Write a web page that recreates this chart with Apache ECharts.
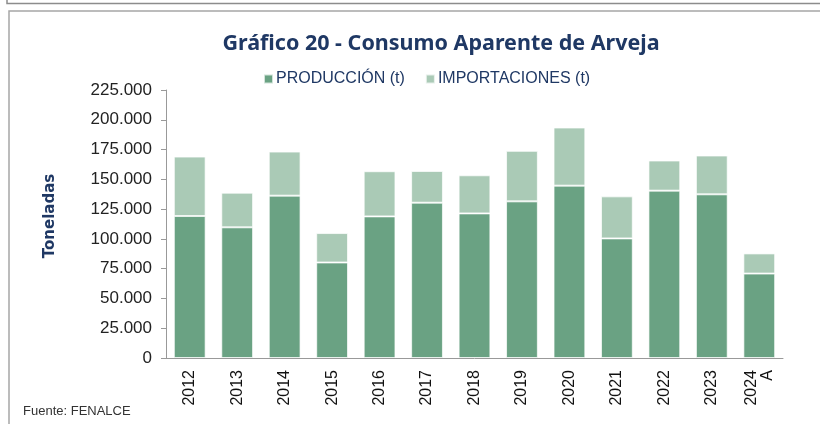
<!DOCTYPE html>
<html>
<head>
<meta charset="utf-8">
<script src="https://cdn.jsdelivr.net/npm/echarts@6/dist/echarts.min.js"></script>
<style>
  html, body { margin: 0; padding: 0; background: #fff; }
  #chart { width: 820px; height: 424px; }
</style>
</head>
<body>
<div id="chart"></div>
<script>
// datos (toneladas)
const years = ["2012", "2013", "2014", "2015", "2016", "2017", "2018", "2019", "2020", "2021", "2022", "2023", "2024\nA"];
const produccion = [119200, 109700, 136300, 80200, 118900, 130400, 121400, 131500, 144700, 100400, 140500, 137400, 70900];
const importaciones = [49900, 29100, 37000, 24700, 37900, 26600, 32000, 42400, 48800, 35300, 25300, 32600, 16900];

const navy = "#1f3864";
const fmt = v => String(v).replace(/\B(?=(\d{3})+(?!\d))/g, ".");

const chart = echarts.init(document.getElementById("chart"));
chart.setOption({
  animation: false,
  textStyle: { fontFamily: "Liberation Sans" },
  title: {
    text: "Gráfico 20 - Consumo Aparente de Arveja",
    left: 436,
    textAlign: "center",
    top: 28,
    textStyle: { color: navy, fontSize: 21.5, fontWeight: "bold", fontFamily: "Noto Sans" }
  },
  legend: {
    top: 66,
    left: 258,
    align: "left",
    itemWidth: 9,
    itemHeight: 9,
    itemGap: 20,
    icon: "rect",
    textStyle: { color: navy, fontSize: 16, padding: [0, 0, 0, -2] },
    data: ["PRODUCCIÓN (t)", "IMPORTACIONES (t)"]
  },
  grid: { left: 166, right: 37, top: 90, bottom: 66 },
  xAxis: {
    type: "category",
    data: years,
    axisLine: { lineStyle: { color: "#999" } },
    axisTick: { length: 5, lineStyle: { color: "#999" } },
    axisLabel: { rotate: 90, color: "#111", fontSize: 16, margin: 12, lineHeight: 16 }
  },
  yAxis: {
    type: "value",
    min: 0,
    max: 225000,
    interval: 25000,
    name: "Toneladas",
    nameLocation: "middle",
    nameGap: 108,
    nameTextStyle: { color: navy, fontSize: 15, fontWeight: "bold", fontFamily: "DejaVu Sans", padding: [0, 0, 0, 16] },
    axisLine: { show: true, lineStyle: { color: "#999" } },
    axisTick: { show: true, length: 5, lineStyle: { color: "#999" } },
    splitLine: { show: false },
    axisLabel: { color: "#222", fontSize: 17, margin: 14, formatter: fmt }
  },
  series: [
    {
      name: "PRODUCCIÓN (t)",
      type: "bar",
      stack: "total",
      barCategoryGap: "33%",
      data: produccion,
      itemStyle: { color: "#6aa283", borderColor: "rgba(255,255,255,0.7)", borderWidth: 1 }
    },
    {
      name: "IMPORTACIONES (t)",
      type: "bar",
      stack: "total",
      data: importaciones,
      itemStyle: { color: "#aacab6", borderColor: "rgba(255,255,255,0.7)", borderWidth: 1 }
    }
  ],
  graphic: [
    { type: "polyline", shape: { points: [[7, 0], [7, 3.5], [820, 3.5]] }, style: { stroke: "#8c8c8c", lineWidth: 1.5, fill: null } },
    { type: "polyline", shape: { points: [[9, 424], [9, 11], [820, 11]] }, style: { stroke: "#a6a6a6", lineWidth: 1.5, fill: null } },
    { type: "text", left: 23, top: 405, style: { text: "Fuente: FENALCE", fill: "#333", fontSize: 13, fontFamily: "Liberation Sans" } }
  ]
});
</script>
</body>
</html>
